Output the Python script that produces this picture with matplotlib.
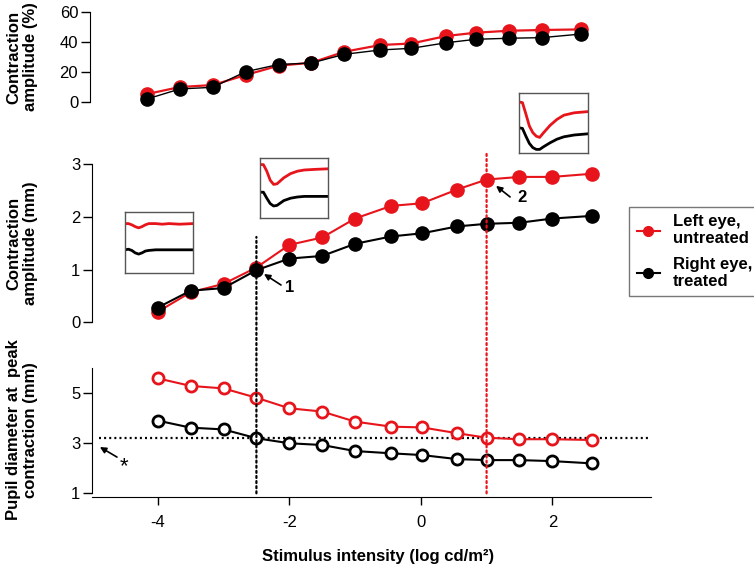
import matplotlib
matplotlib.use("Agg")
import matplotlib.pyplot as plt
from matplotlib.lines import Line2D
from matplotlib.patches import ConnectionPatch

plt.rcParams['font.family'] = ['Liberation Sans', 'DejaVu Sans']
plt.rcParams['font.size'] = 12
plt.rcParams['axes.unicode_minus'] = False

W, H = 754, 566

# stimulus intensity (log cd/m2)
intensity = [-4, -3.5, -3, -2.5, -2, -1.5, -1, -0.45, 0.02, 0.55, 1, 1.5, 2, 2.6]

# contraction amplitude (%)
amp_pct_left = [5.3, 10.0, 11.3, 18.0, 24.2, 26.2, 33.5, 38.0, 39.0, 44.0, 46.2, 47.5, 48.0, 48.4]
amp_pct_right = [2.0, 8.7, 9.8, 20.2, 25.0, 26.0, 31.8, 34.7, 35.8, 39.5, 41.8, 42.5, 42.9, 45.3]

# contraction amplitude (mm)
amp_mm_left = [0.20, 0.57, 0.73, 1.04, 1.47, 1.61, 1.97, 2.21, 2.26, 2.52, 2.71, 2.76, 2.76, 2.82]
amp_mm_right = [0.28, 0.60, 0.65, 0.99, 1.21, 1.26, 1.49, 1.63, 1.69, 1.82, 1.87, 1.89, 1.97, 2.02]

# pupil diameter at peak contraction (mm)
diam_left = [5.57, 5.27, 5.17, 4.80, 4.38, 4.25, 3.85, 3.65, 3.62, 3.39, 3.21, 3.15, 3.15, 3.12]
diam_right = [3.89, 3.61, 3.54, 3.19, 2.99, 2.92, 2.68, 2.59, 2.52, 2.36, 2.32, 2.32, 2.28, 2.19]

threshold_diam = 3.21
mark_1 = -2.5
mark_2 = 1.0

# example pupil traces for the insets (normalised time, normalised height)
trace_t = [0, 0.05, 0.1, 0.15, 0.2, 0.25, 0.3, 0.35, 0.45, 0.55, 0.65, 0.8, 1.0]
trace1_red = [0.81, 0.81, 0.79, 0.76, 0.74, 0.76, 0.79, 0.81, 0.81, 0.80, 0.81, 0.80, 0.81]
trace1_black = [0.38, 0.39, 0.37, 0.33, 0.31, 0.33, 0.36, 0.37, 0.38, 0.38, 0.38, 0.38, 0.38]
trace2_red = [0.89, 0.89, 0.78, 0.63, 0.56, 0.57, 0.62, 0.67, 0.74, 0.78, 0.80, 0.81, 0.82]
trace2_black = [0.43, 0.43, 0.33, 0.24, 0.20, 0.21, 0.25, 0.29, 0.33, 0.35, 0.36, 0.36, 0.36]
trace3_red = [0.85, 0.84, 0.65, 0.45, 0.34, 0.28, 0.26, 0.33, 0.46, 0.56, 0.63, 0.67, 0.69]
trace3_black = [0.42, 0.41, 0.28, 0.16, 0.09, 0.06, 0.06, 0.10, 0.17, 0.23, 0.27, 0.30, 0.32]

RED = '#e8141b'
DOTS = (0, (0.9, 1.4))


def px_rect(l, t, r, b):
    return [l / W, 1 - b / H, (r - l) / W, (b - t) / H]


fig = plt.figure(figsize=(W / 100, H / 100), dpi=100)

ax1 = fig.add_axes(px_rect(90, 5, 651, 110))
ax2 = fig.add_axes(px_rect(92, 150, 651, 330))
ax3 = fig.add_axes(px_rect(92, 360, 651, 496.7))

for ax in (ax1, ax2, ax3):
    ax.spines['top'].set_visible(False)
    ax.spines['right'].set_visible(False)
    ax.tick_params(axis='y', direction='out', length=6.5, width=1, pad=2, labelsize=12)
    ax.patch.set_alpha(0)

for ax in (ax1, ax2):
    ax.spines['bottom'].set_visible(False)
    ax.set_xticks([])

# top panel
ax1.plot(intensity, amp_pct_left, '-o', color=RED, lw=1.6, ms=9.5, mec=RED, zorder=3)
ax1.plot(intensity, amp_pct_right, '-o', color='black', lw=1.0, ms=9.5, zorder=4)
ax1.set_xlim(-4.867, 3.664)
ax1.set_ylim(-5.33, 64.67)
ax1.set_yticks([0, 20, 40, 60])
ax1.spines['left'].set_bounds(0, 60)

# middle panel
ax2.plot(intensity, amp_mm_left, '-o', color=RED, lw=1.5, ms=9.5, mec=RED, zorder=3)
ax2.plot(intensity, amp_mm_right, '-o', color='black', lw=1.5, ms=9.5, zorder=4)
ax2.set_xlim(-5, 3.5)
ax2.set_ylim(-0.146, 3.271)
ax2.set_yticks([0, 1, 2, 3])
ax2.spines['left'].set_bounds(0, 3)

# bottom panel
ax3.plot(intensity, diam_left, '-o', color=RED, lw=1.5, ms=8, mfc='white', mec=RED, mew=2, zorder=3)
ax3.plot(intensity, diam_right, '-o', color='black', lw=1.5, ms=8, mfc='white', mec='black', mew=2, zorder=4)
ax3.set_xlim(-5, 3.5)
ax3.set_ylim(0.865, 6.30)
ax3.set_yticks([1, 3, 5])
ax3.spines['left'].set_bounds(1, 6)
ax3.set_xticks([-4, -2, 0, 2])
ax3.tick_params(axis='x', direction='out', length=6, width=1, pad=7, labelsize=12)
ax3.plot([-4.9, 3.45], [threshold_diam, threshold_diam], color='black', ls=DOTS, lw=1.6, zorder=2)

# vertical dotted lines across panels
for xv, ytop, col in ((mark_1, 1.62, 'black'), (mark_2, 3.22, RED)):
    con = ConnectionPatch(xyA=(xv, 1.0), coordsA=ax3.transData,
                          xyB=(xv, ytop), coordsB=ax2.transData,
                          color=col, lw=1.6, ls=DOTS, zorder=1)
    fig.add_artist(con)

# annotations
arrow = dict(arrowstyle='-|>', color='black', lw=1.2, mutation_scale=9, shrinkA=0, shrinkB=0)
ax2.annotate('', xy=(-2.385, 0.917), xytext=(-2.126, 0.708), arrowprops=arrow)
ax2.text(-1.99, 0.67, '1', fontsize=12, fontweight='bold', ha='center', va='center')
ax2.annotate('', xy=(1.144, 2.59), xytext=(1.357, 2.38), arrowprops=arrow)
ax2.text(1.54, 2.36, '2', fontsize=12, fontweight='bold', ha='center', va='center')
ax3.annotate('', xy=(-4.88, 2.84), xytext=(-4.62, 2.44), arrowprops=arrow, annotation_clip=False)
ax3.text(-4.52, 2.05, '*', fontsize=16, ha='center', va='center')

# insets
insets = [
    ((125, 212, 193, 273), trace1_red, trace1_black),
    ((260, 158, 328, 218), trace2_red, trace2_black),
    ((519, 93, 588, 153), trace3_red, trace3_black),
]
for (l, t, r, b), tr_red, tr_black in insets:
    ins = fig.add_axes(px_rect(l, t, r, b))
    ins.plot(trace_t, tr_red, color=RED, lw=2)
    ins.plot(trace_t, tr_black, color='black', lw=2)
    ins.set_xlim(0, 1)
    ins.set_ylim(0, 1)
    ins.set_xticks([])
    ins.set_yticks([])
    for s in ins.spines.values():
        s.set_color('#555555')
        s.set_linewidth(1)

# y labels
def ylab(text, y_px):
    fig.text(22 / W, 1 - y_px / H, text, rotation=90, ha='center', va='center',
             fontsize=12, fontweight='bold', linespacing=1.1)

ylab('Contraction\namplitude (%)', 57)
ylab('Contraction\namplitude (mm)', 243)
ylab('Pupil diameter at  peak\ncontraction (mm)', 430)

fig.text(378 / W, 1 - 557 / H, 'Stimulus intensity (log cd/m²)', ha='center', va='center',
         fontsize=12, fontweight='bold')

# legend
handles = [
    Line2D([], [], color=RED, marker='o', ms=7, lw=1.5),
    Line2D([], [], color='black', marker='o', ms=7, lw=1.5),
]
leg = fig.legend(handles, ['Left eye,\nuntreated', 'Right eye,\ntreated'],
                 loc='upper left', bbox_to_anchor=(629 / W, 1 - 207 / H),
                 bbox_transform=fig.transFigure, borderaxespad=0, fancybox=False,
                 edgecolor='#555555', handlelength=1.4, handletextpad=0.8,
                 borderpad=0.45, labelspacing=0.65, prop={'weight': 'bold', 'size': 12})
leg.get_frame().set_linewidth(1)
for txt in leg.get_texts():
    txt.set_linespacing(1.15)

fig.savefig('out.png', dpi=100)
